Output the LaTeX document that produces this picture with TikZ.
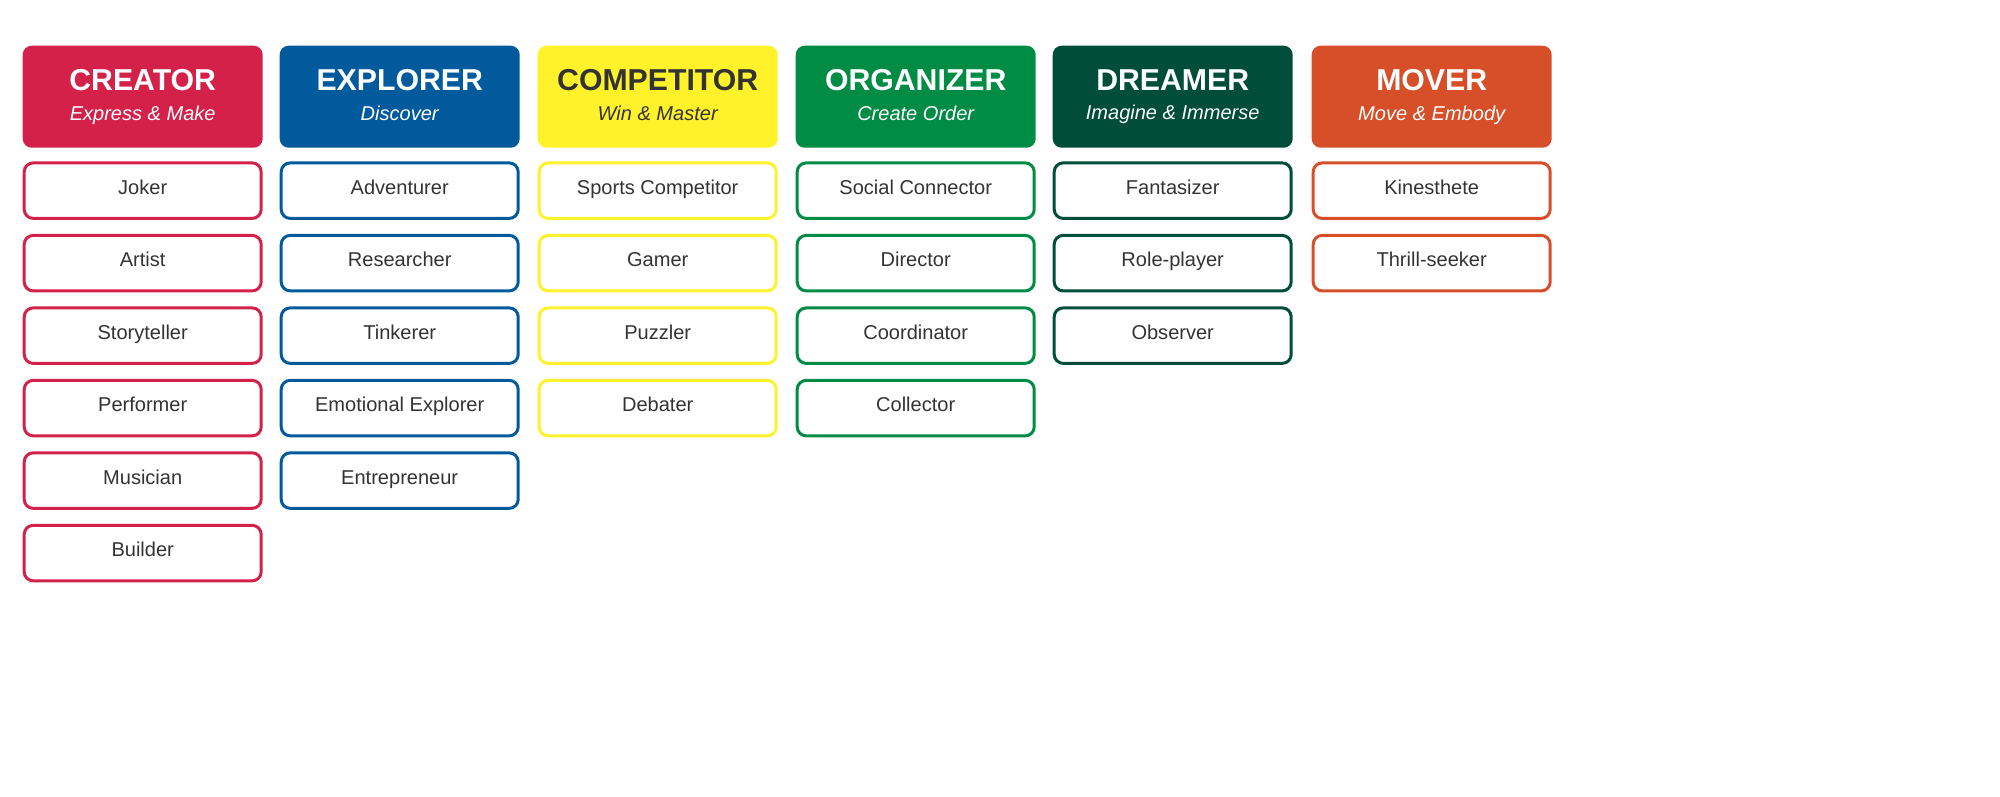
\documentclass[tikz,border=0pt]{standalone}
\usepackage{fontspec}
\setmainfont{Liberation Sans}
\usetikzlibrary{positioning}
\definecolor{creatorred}{HTML}{D4214A}
\definecolor{explorerblue}{HTML}{005A9C}
\definecolor{compyellow}{HTML}{FFF22A}
\definecolor{orggreen}{HTML}{008C45}
\definecolor{dreamgreen}{HTML}{004D3A}
\definecolor{moverorange}{HTML}{D64F29}
\definecolor{textgray}{HTML}{333333}
\newcommand{\headtext}[2]{{\fontsize{8.6}{10}\selectfont\bfseries #1}\\[-3.5pt]{\fontsize{5.7}{7}\selectfont\itshape\vphantom{Ig}#2}}
\begin{document}
\begin{tikzpicture}[node distance=0.14cm,
  head/.style={rectangle,rounded corners=0.09cm,minimum width=2.4cm,minimum height=1.02cm,
    align=center,text=white,anchor=north west,inner sep=0pt},
  item/.style={rectangle,rounded corners=0.09cm,draw=#1,line width=0.85pt,fill=white,
    minimum width=2.37cm,minimum height=0.555cm,text=textgray,font=\fontsize{5.7}{7}\selectfont,
    text height=3.6pt,text depth=1.6pt,inner sep=0pt}]
  \useasboundingbox (0,0) rectangle (20,-7.96);
  % headers
  \node[head,fill=creatorred] (h1) at (0.22,-0.45) {\headtext{CREATOR}{Express \& Make}};
  \node[head,fill=explorerblue] (h2) at (2.79,-0.45) {\headtext{EXPLORER}{Discover}};
  \node[head,fill=compyellow,text=textgray] (h3) at (5.37,-0.45) {\headtext{COMPETITOR}{Win \& Master}};
  \node[head,fill=orggreen] (h4) at (7.95,-0.45) {\headtext{ORGANIZER}{Create Order}};
  \node[head,fill=dreamgreen] (h5) at (10.52,-0.45) {\headtext{DREAMER}{Imagine \& Immerse}};
  \node[head,fill=moverorange] (h6) at (13.11,-0.45) {\headtext{MOVER}{Move \& Embody}};
  % creator
  \node[item=creatorred] (c1) [below=0.13cm of h1] {Joker};
  \node[item=creatorred] (c2) [below=of c1] {Artist};
  \node[item=creatorred] (c3) [below=of c2] {Storyteller};
  \node[item=creatorred] (c4) [below=of c3] {Performer};
  \node[item=creatorred] (c5) [below=of c4] {Musician};
  \node[item=creatorred] (c6) [below=of c5] {Builder};
  % explorer
  \node[item=explorerblue] (e1) [below=0.13cm of h2] {Adventurer};
  \node[item=explorerblue] (e2) [below=of e1] {Researcher};
  \node[item=explorerblue] (e3) [below=of e2] {Tinkerer};
  \node[item=explorerblue] (e4) [below=of e3] {Emotional Explorer};
  \node[item=explorerblue] (e5) [below=of e4] {Entrepreneur};
  % competitor
  \node[item=compyellow] (p1) [below=0.13cm of h3] {Sports Competitor};
  \node[item=compyellow] (p2) [below=of p1] {Gamer};
  \node[item=compyellow] (p3) [below=of p2] {Puzzler};
  \node[item=compyellow] (p4) [below=of p3] {Debater};
  % organizer
  \node[item=orggreen] (o1) [below=0.13cm of h4] {Social Connector};
  \node[item=orggreen] (o2) [below=of o1] {Director};
  \node[item=orggreen] (o3) [below=of o2] {Coordinator};
  \node[item=orggreen] (o4) [below=of o3] {Collector};
  % dreamer
  \node[item=dreamgreen] (d1) [below=0.13cm of h5] {Fantasizer};
  \node[item=dreamgreen] (d2) [below=of d1] {Role-player};
  \node[item=dreamgreen] (d3) [below=of d2] {Observer};
  % mover
  \node[item=moverorange] (m1) [below=0.13cm of h6] {Kinesthete};
  \node[item=moverorange] (m2) [below=of m1] {Thrill-seeker};
\end{tikzpicture}
\end{document}
